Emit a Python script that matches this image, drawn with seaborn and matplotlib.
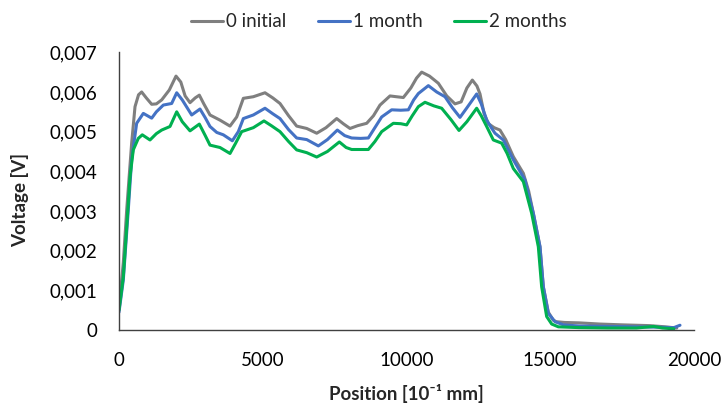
import matplotlib
matplotlib.use("Agg")
import matplotlib.pyplot as plt
import seaborn as sns
import pandas as pd
from matplotlib.ticker import FuncFormatter, MultipleLocator

# ---------------- data ----------------
series_names = ["0 initial", "1 month", "2 months"]
series_colors = ["#7F7F7F", "#4472C4", "#00B050"]

x_initial = [0, 150, 268, 440, 557, 680, 788, 950, 1137, 1300, 1485, 1750, 1983, 2150,
             2300, 2470, 2650, 2794, 2950, 3165, 3513, 3861, 4094, 4325, 4672, 5078,
             5350, 5600, 5900, 6180, 6530, 6877, 7200, 7572, 7800, 8035, 8300, 8615,
             8850, 9078, 9426, 9650, 9890, 10150, 10350, 10528, 10800, 11107, 11400,
             11687, 11900, 12100, 12290, 12450, 12557, 12700, 12850, 13050, 13252,
             13450, 13716, 14064, 14250, 14412, 14643, 14759, 14933, 15100, 15200,
             15500, 16000, 16730, 17500, 18470, 19000, 19400]
v_initial = [0.00055, 0.0017, 0.00303, 0.00471, 0.00563, 0.00593, 0.0060, 0.00585,
             0.00569, 0.0057, 0.0058, 0.00605, 0.0064, 0.00625, 0.0059, 0.00573,
             0.00585, 0.00592, 0.0057, 0.00542, 0.00529, 0.00514, 0.00537, 0.00584,
             0.00588, 0.00598, 0.00585, 0.00571, 0.0054, 0.00514, 0.00508, 0.00496,
             0.0051, 0.00533, 0.0052, 0.00508, 0.00515, 0.00521, 0.0054, 0.00567,
             0.0059, 0.00588, 0.00586, 0.0061, 0.00635, 0.0065, 0.0064, 0.00622,
             0.0059, 0.0057, 0.00575, 0.0061, 0.0063, 0.00615, 0.00595, 0.00545,
             0.0052, 0.0051, 0.00504, 0.0048, 0.00437, 0.00395, 0.0035, 0.00294,
             0.0021, 0.00109, 0.00045, 0.00025, 0.00021, 0.00019, 0.00018, 0.00015,
             0.00013, 0.00011, 0.00008, 0.00005]

x_month1 = [0, 150, 323, 440, 614, 846, 1137, 1300, 1542, 1832, 2007, 2200, 2528, 2817,
            3000, 3165, 3400, 3629, 3942, 4150, 4325, 4672, 5078, 5350, 5600, 5900,
            6180, 6530, 6934, 7250, 7594, 7850, 8093, 8400, 8673, 8900, 9136, 9484,
            9800, 10064, 10250, 10412, 10760, 11050, 11339, 11600, 11861, 12100, 12441,
            12600, 12789, 12950, 13078, 13368, 13716, 14122, 14412, 14643, 14759, 14933,
            15165, 15455, 16000, 17000, 18000, 18800, 19300, 19513]
v_month1 = [0.00045, 0.00126, 0.00303, 0.00429, 0.00521, 0.00546, 0.00534, 0.0055,
            0.00567, 0.00571, 0.00598, 0.0058, 0.00542, 0.00557, 0.00535, 0.00513,
            0.00498, 0.00492, 0.00477, 0.005, 0.00533, 0.00542, 0.00559, 0.00545,
            0.00533, 0.00505, 0.00484, 0.0048, 0.00464, 0.0048, 0.00504, 0.0049,
            0.00484, 0.00483, 0.00484, 0.0051, 0.00537, 0.00555, 0.00554, 0.00555,
            0.0058, 0.00596, 0.00616, 0.006, 0.00588, 0.0056, 0.00536, 0.0056, 0.00595,
            0.0057, 0.00529, 0.0051, 0.00496, 0.00479, 0.00429, 0.00378, 0.00294,
            0.0021, 0.00109, 0.00042, 0.00021, 0.00013, 0.0001, 0.00009, 0.00008,
            0.00007, 0.00006, 0.00012]

x_month2 = [0, 150, 268, 383, 497, 671, 810, 1078, 1300, 1485, 1774, 2007, 2200, 2470,
            2794, 3000, 3165, 3513, 3861, 4050, 4267, 4672, 5043, 5300, 5600, 5900, 6180,
            6530, 6877, 7250, 7664, 7900, 8093, 8400, 8673, 8900, 9136, 9542, 9800,
            10006, 10200, 10412, 10643, 10950, 11223, 11550, 11826, 12100, 12441, 12600,
            12789, 13020, 13310, 13500, 13716, 14064, 14354, 14585, 14701, 14875, 15050,
            15281, 16000, 17000, 18000, 18600, 18900, 19300]
v_month2 = [0.0005, 0.00134, 0.0026, 0.00386, 0.00454, 0.00483, 0.00492, 0.00479,
            0.00495, 0.00504, 0.00513, 0.0055, 0.00525, 0.00502, 0.00519, 0.0049,
            0.00466, 0.0046, 0.00445, 0.0047, 0.005, 0.0051, 0.00527, 0.00515, 0.005,
            0.00475, 0.00454, 0.00447, 0.00436, 0.0045, 0.00474, 0.0046, 0.00455,
            0.00455, 0.00455, 0.00475, 0.005, 0.00521, 0.0052, 0.00517, 0.0054,
            0.00563, 0.00574, 0.00565, 0.00559, 0.0053, 0.00503, 0.00525, 0.00559,
            0.0054, 0.00513, 0.00479, 0.00471, 0.00445, 0.00407, 0.00374, 0.00294,
            0.0021, 0.00109, 0.00034, 0.00015, 0.00008, 0.00006, 0.00005, 0.00005,
            0.00009, 0.00005, 0.00003]

x_ticks = [0, 5000, 10000, 15000, 20000]
y_ticks = [0, 0.001, 0.002, 0.003, 0.004, 0.005, 0.006, 0.007]
x_label = "Position [10\u207b\u00b9 mm]"
y_label = "Voltage [V]"

# ---------------- style ----------------
sns.set_style("white")
plt.rcParams["font.family"] = ["Lato", "DejaVu Sans"]
FS = 13.5

fig = plt.figure(figsize=(7.23, 4.11), dpi=100)
ax = fig.add_axes([119 / 723, 1 - 330 / 411, 575 / 723, (330 - 52.3) / 411])

frames = []
for name, xs, vs in zip(series_names,
                        [x_initial, x_month1, x_month2],
                        [v_initial, v_month1, v_month2]):
    frames.append(pd.DataFrame({"Position": xs, "Voltage": vs, "Series": name}))
df = pd.concat(frames, ignore_index=True)

sns.lineplot(data=df, x="Position", y="Voltage", hue="Series",
             hue_order=series_names, palette=series_colors,
             linewidth=2.2, ax=ax, sort=False, estimator=None)

ax.set_xlim(0, 20000)
ax.set_ylim(0, 0.007)
ax.set_xticks(x_ticks)
ax.set_yticks(y_ticks)
ax.yaxis.set_major_formatter(FuncFormatter(
    lambda v, p: "0" if abs(v) < 1e-12 else f"{v:.3f}".replace(".", ",")))
ax.xaxis.set_major_formatter(FuncFormatter(lambda v, p: f"{int(round(v))}"))

for side in ["top", "right"]:
    ax.spines[side].set_visible(False)
for side in ["left", "bottom"]:
    ax.spines[side].set_color("#404040")
    ax.spines[side].set_linewidth(1.0)

ax.tick_params(axis="both", which="major", direction="out", length=5.5, width=1.0,
               color="#404040", labelsize=FS, labelcolor="black")
ax.tick_params(axis="x", pad=10)
ax.tick_params(axis="y", pad=10)
ax.grid(False)

ax.set_xlabel(x_label, fontsize=FS, fontweight="bold")
ax.set_ylabel(y_label, fontsize=FS, fontweight="bold")
ax.xaxis.set_label_coords(0.5, -0.195)
ax.yaxis.set_label_coords(-0.156, 0.468)

leg = ax.legend(loc="center", bbox_to_anchor=(379 / 723, 1 - 21.7 / 411),
                bbox_transform=fig.transFigure, ncol=3, frameon=False,
                fontsize=FS, handlelength=1.7, handletextpad=0.15,
                columnspacing=1.7, borderaxespad=0)
for line in leg.get_lines():
    line.set_linewidth(2.2)

fig.savefig("out.png", dpi=100)
